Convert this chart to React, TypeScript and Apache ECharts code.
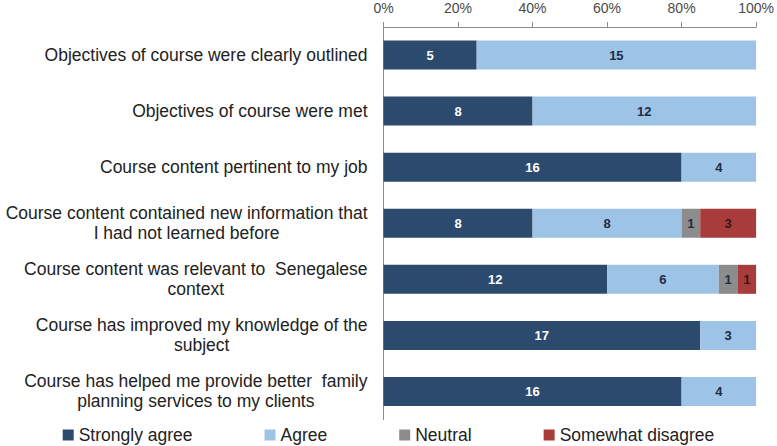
import React, { useEffect, useRef } from "react";
import * as echarts from "echarts";

const categories = [
  "Objectives of course were clearly outlined",
  "Objectives of course were met",
  "Course content pertinent to my job",
  "Course content contained new information that\nI had not learned before",
  "Course content was relevant to  Senegalese\ncontext",
  "Course has improved my knowledge of the\nsubject",
  "Course has helped me provide better  family\nplanning services to my clients",
];

const seriesNames = ["Strongly agree", "Agree", "Neutral", "Somewhat disagree"];
const stronglyAgree = [5, 8, 16, 8, 12, 17, 16];
const agree = [15, 12, 4, 8, 6, 3, 4];
const neutral = [0, 0, 0, 1, 1, 0, 0];
const somewhatDisagree = [0, 0, 0, 3, 1, 0, 0];
const xTicks = [0, 20, 40, 60, 80, 100];

const colors = ["#2C4A6E", "#9DC3E6", "#8C8C8C", "#A83C3B"];
const labelColors = ["#FFFFFF", "#1E2D42", "#1E2D42", "#3A1414"];
const FONT = "'Liberation Sans', Arial, sans-serif";

export default function App() {
  const ref = useRef<HTMLDivElement>(null);
  useEffect(() => {
    if (!ref.current) return;
    const chart = echarts.init(ref.current, null, { renderer: "svg" });
    const counts = [stronglyAgree, agree, neutral, somewhatDisagree];
    const totals = categories.map((_, i) => counts.reduce((s, arr) => s + arr[i], 0));
    chart.setOption({
      animation: false,
      backgroundColor: "#FFFFFF",
      grid: { left: 383.5, right: 18, top: 27, bottom: 26.5, containLabel: false },
      legend: {
        data: seriesNames,
        top: 425,
        left: "center",
        padding: 0,
        itemWidth: 11,
        itemHeight: 11,
        itemGap: 72,
        icon: "rect",
        textStyle: { fontFamily: FONT, fontSize: 17.5, color: "#222222", lineHeight: 20 },
      },
      xAxis: {
        type: "value",
        position: "top",
        min: xTicks[0],
        max: xTicks[xTicks.length - 1],
        interval: xTicks[1] - xTicks[0],
        axisLine: { show: true, lineStyle: { color: "#8C8C8C", width: 1 } },
        axisTick: { show: true, length: 5, lineStyle: { color: "#8C8C8C" } },
        splitLine: { show: false },
        axisLabel: {
          formatter: "{value}%",
          fontFamily: FONT,
          fontSize: 14,
          color: "#4A4A4A",
          margin: 12,
        },
      },
      yAxis: {
        type: "category",
        inverse: true,
        data: categories,
        axisLine: { show: true, lineStyle: { color: "#8C8C8C", width: 1 } },
        axisTick: { show: false },
        axisLabel: {
          margin: 16,
          formatter: (v: string) => v.split("\n").map((l) => `{c|${l}}`).join("\n"),
          rich: {
            c: {
              align: "center",
              fontFamily: FONT,
              fontSize: 17.5,
              lineHeight: 20,
              color: "#222222",
            },
          },
        },
      },
      series: counts.map((arr, si) => ({
        name: seriesNames[si],
        type: "bar",
        stack: "total",
        barWidth: 29,
        itemStyle: { color: colors[si] },
        data: arr.map((v, i) => (v / totals[i]) * 100),
        label: {
          show: true,
          position: "inside",
          fontFamily: FONT,
          fontWeight: "bold",
          fontSize: 13,
          color: labelColors[si],
          formatter: (p: any) => (arr[p.dataIndex] > 0 ? String(arr[p.dataIndex]) : ""),
        },
      })),
    });
    return () => chart.dispose();
  }, []);
  return (
    <div
      ref={ref}
      style={{ position: "fixed", left: 0, top: 0, width: 777, height: 446 }}
    />
  );
}
